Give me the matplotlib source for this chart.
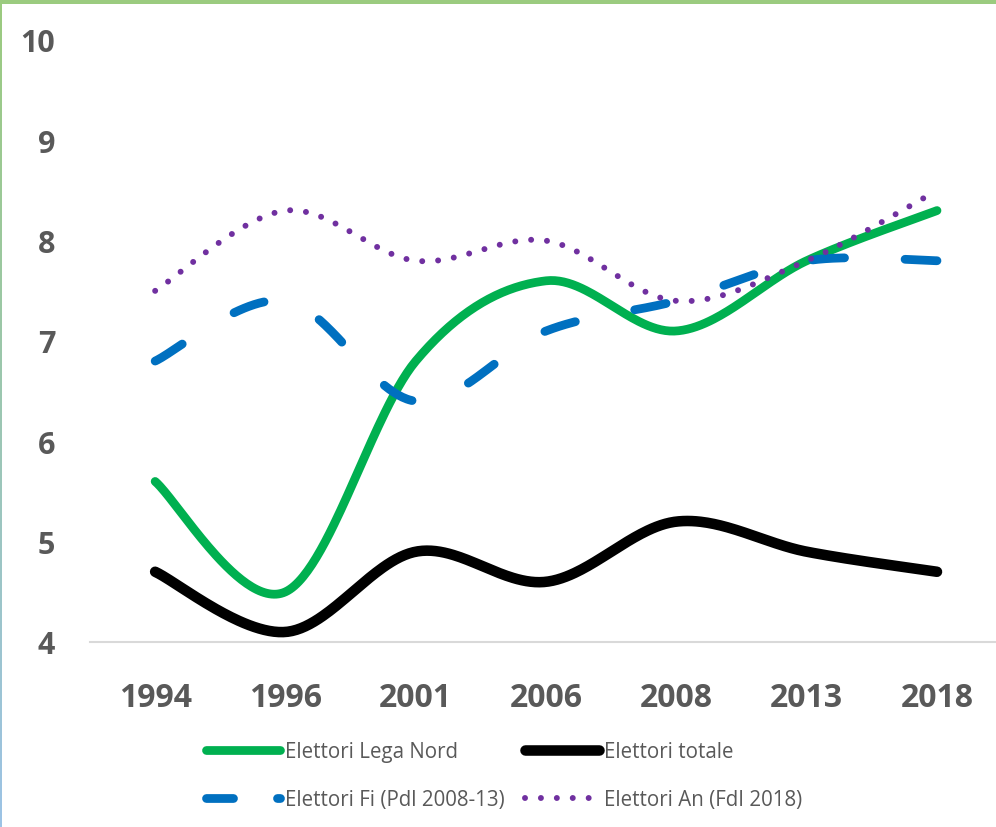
import numpy as np
import matplotlib
matplotlib.use("Agg")
import matplotlib.pyplot as plt
from matplotlib.colors import LinearSegmentedColormap

years = ["1994", "1996", "2001", "2006", "2008", "2013", "2018"]
lega_nord = [5.6, 4.5, 6.8, 7.6, 7.1, 7.8, 8.3]
totale = [4.7, 4.1, 4.9, 4.6, 5.2, 4.9, 4.7]
fi_pdl = [6.8, 7.4, 6.4, 7.1, 7.4, 7.8, 7.8]
an_fdi = [7.5, 8.3, 7.8, 8.0, 7.4, 7.8, 8.5]
labels = ["Elettori Lega Nord", "Elettori totale",
          "Elettori Fi (Pdl 2008-13)", "Elettori An (FdI 2018)"]
yticks = [4, 5, 6, 7, 8, 9, 10]


def smooth(xs, ys, n=60):
    """Excel-like smoothed line (Catmull-Rom Bezier) through the points."""
    P = np.column_stack([xs, ys]).astype(float)
    out = [P[0]]
    m = len(P)
    for i in range(m - 1):
        p0 = P[i - 1] if i > 0 else P[i]
        p1 = P[i]
        p2 = P[i + 1]
        p3 = P[i + 2] if i + 2 < m else P[i + 1]
        c1 = p1 + (p2 - p0) / 6.0
        c2 = p2 - (p3 - p1) / 6.0
        t = np.linspace(0, 1, n)[1:, None]
        seg = ((1 - t) ** 3) * p1 + 3 * ((1 - t) ** 2) * t * c1 + 3 * (1 - t) * t ** 2 * c2 + t ** 3 * p2
        out.extend(seg)
    out = np.array(out)
    return out[:, 0], out[:, 1]


W, H = 996, 828
fig = plt.figure(figsize=(W / 100, H / 100), dpi=100)
fig.patch.set_facecolor("white")

grey = "#595959"
ax = fig.add_axes([90 / W, 1 - 643 / H, 1 - 90 / W, (643 - 41) / H])
x = np.arange(len(years))
ax.set_xlim(-0.5, (W - 155) / 130.33)
ax.set_ylim(4, 10)


def fitted_dashes(sx, sy, on_px, period_px, lw_pt):
    pts = ax.transData.transform(np.column_stack([sx, sy]))
    L = np.sum(np.hypot(*np.diff(pts, axis=0).T))
    k = max(1, round((L - on_px) / period_px))
    per = (L - on_px) / k
    px2pt = 0.72
    return (on_px * px2pt / lw_pt, (per - on_px) * px2pt / lw_pt)


series = [
    (lega_nord, dict(color="#00B050", lw=6.3, solid_capstyle="round"), None),
    (totale, dict(color="#000000", lw=7.6, solid_capstyle="round"), None),
    (fi_pdl, dict(color="#0070C0", lw=6.3, dash_capstyle="round"), (32, 89)),
    (an_fdi, dict(color="#7030A0", lw=4.3, dash_capstyle="round"), (0.01, 16)),
]
handles = []
for (vals, kw, dash), lab in zip(series, labels):
    sx, sy = smooth(x, vals)
    if dash is not None:
        kw = dict(kw, dashes=fitted_dashes(sx, sy, dash[0], dash[1], kw["lw"]))
    h, = ax.plot(sx, sy, label=lab, **kw)
    handles.append(h)

ax.set_xticks(x)
ax.set_xticklabels(years)
ax.set_yticks(yticks)
ax.set_yticklabels([str(v) for v in yticks])
for s in ["top", "right", "left"]:
    ax.spines[s].set_visible(False)
ax.spines["bottom"].set_color("#D9D9D9")
ax.spines["bottom"].set_linewidth(1.5)
ax.tick_params(length=0)
ax.tick_params(axis="x", pad=28, labelsize=23, colors=grey)
ax.tick_params(axis="y", pad=25, labelsize=22, colors=grey)
for t in ax.get_xticklabels() + ax.get_yticklabels():
    t.set_fontfamily(["Open Sans", "DejaVu Sans"])
    t.set_fontweight("bold")

order = [0, 2, 1, 3]
leg = fig.legend([handles[i] for i in order], [labels[i] for i in order],
                 loc="upper left", ncol=2,
                 bbox_to_anchor=(206 / W, 1 - 742 / H), frameon=False,
                 prop={"family": ["Open Sans", "DejaVu Sans"], "size": 14.8},
                 handlelength=3.6, handletextpad=0.25, columnspacing=1.0,
                 labelspacing=1.3, borderpad=0, borderaxespad=0)
for t in leg.get_texts():
    t.set_color(grey)
# legend handle of the dashed series shows a shorter dash pattern
lh = leg.legend_handles[1]
lh.set_dashes((27 * 0.72 / 6.3, 44 * 0.72 / 6.3))

# top border
fig.add_artist(plt.Rectangle((0, 1 - 5 / H), 1, 5 / H, transform=fig.transFigure,
                             color="#9BCB7F", lw=0))
# left border gradient
bax = fig.add_axes([0, 0, 2 / W, 1 - 5 / H])
grad = np.linspace(0, 1, 256)[:, None]
cm = LinearSegmentedColormap.from_list("g", ["#9BCB7F", "#9DC3E6"])
bax.imshow(grad, aspect="auto", cmap=cm, extent=[0, 1, 1, 0])
bax.axis("off")

fig.savefig("out.png", dpi=100, facecolor="white")
